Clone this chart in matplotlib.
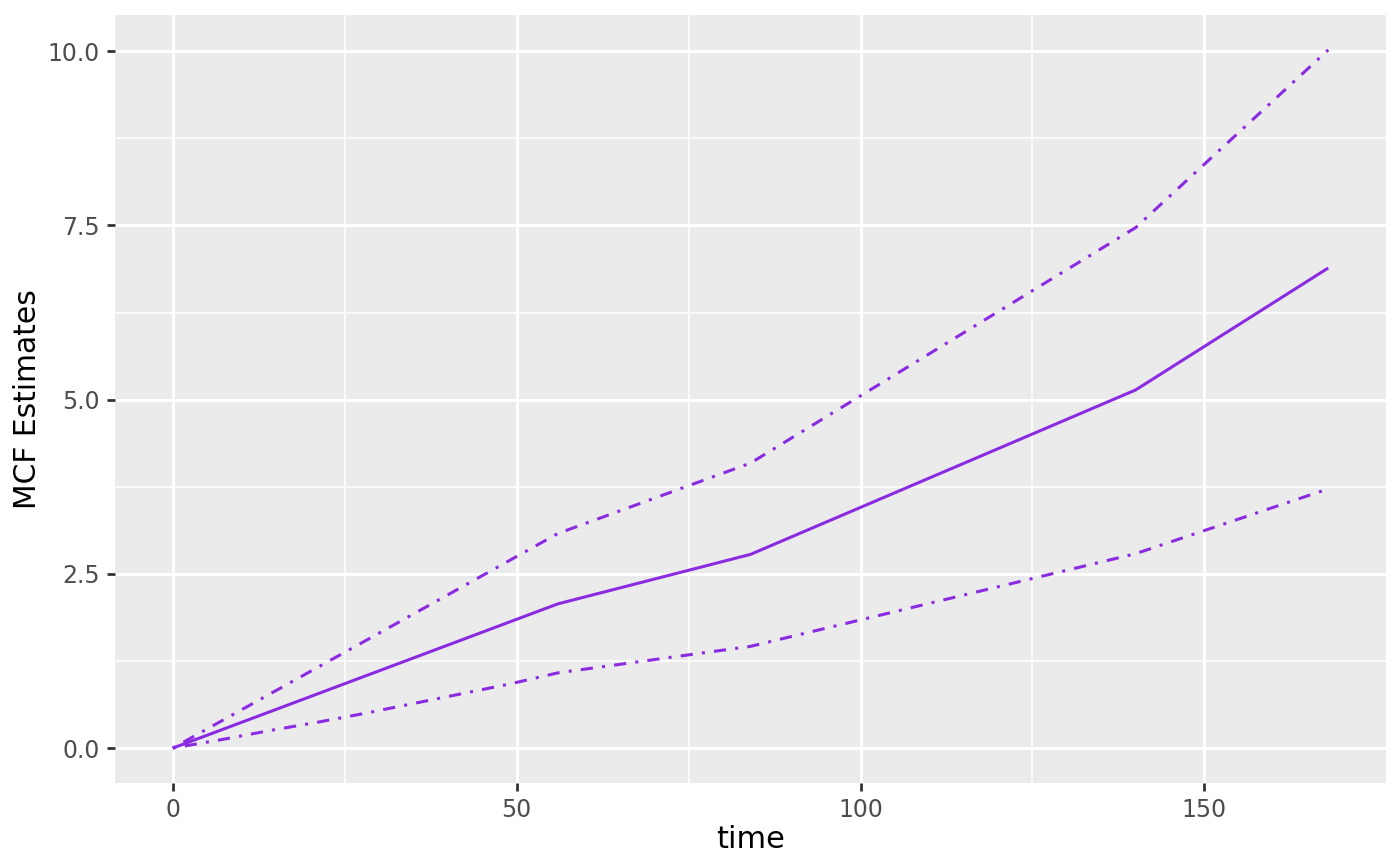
import matplotlib
matplotlib.use("Agg")
import matplotlib.pyplot as plt
from matplotlib.ticker import FixedLocator

# Data
time_mcf = [0, 56, 84, 140, 168]
mcf = [0.0, 2.07, 2.78, 5.14, 6.89]

time_upper = [0, 56, 84, 140, 168]
upper = [0.0, 3.08, 4.09, 7.47, 10.02]

time_lower = [0, 7, 14, 21, 28, 35, 42, 49, 56, 84, 140, 168]
lower = [0.0, 0.12, 0.25, 0.37, 0.50, 0.64, 0.78, 0.92, 1.08, 1.46, 2.79, 3.72]

x_major = [0, 50, 100, 150]
x_minor = [25, 75, 125]
y_major = [0.0, 2.5, 5.0, 7.5, 10.0]
y_minor = [1.25, 3.75, 6.25, 8.75]
y_labels = ["0.0", "2.5", "5.0", "7.5", "10.0"]

color = "#8A2BE2"

fig = plt.figure(figsize=(7, 4.33), dpi=200)
ax = fig.add_axes([115 / 1400, 1 - 783 / 866, (1386 - 115) / 1400, (783 - 15) / 866])
ax.set_facecolor("#EBEBEB")
for s in ax.spines.values():
    s.set_visible(False)

ax.xaxis.set_major_locator(FixedLocator(x_major))
ax.xaxis.set_minor_locator(FixedLocator(x_minor))
ax.yaxis.set_major_locator(FixedLocator(y_major))
ax.yaxis.set_minor_locator(FixedLocator(y_minor))
ax.set_yticklabels(y_labels)
ax.grid(which="major", color="white", linewidth=1.1)
ax.grid(which="minor", color="white", linewidth=0.55)
ax.set_axisbelow(True)
ax.tick_params(which="major", length=3, width=1.0, color="#333333",
               labelcolor="#4D4D4D", labelsize=8.5, pad=2.5)
ax.tick_params(which="minor", length=0)

dd = (0, (1, 3, 4, 3))
ax.plot(time_upper, upper, color=color, linewidth=1.1, linestyle=dd,
        dash_capstyle="butt")
ax.plot(time_lower, lower, color=color, linewidth=1.1, linestyle=dd,
        dash_capstyle="butt")
ax.plot(time_mcf, mcf, color=color, linewidth=1.1, solid_capstyle="butt")

xmin, xmax = 0, 168
ymin, ymax = 0, 10.02
ax.set_xlim(xmin - 0.05 * (xmax - xmin), xmax + 0.05 * (xmax - xmin))
ax.set_ylim(ymin - 0.05 * (ymax - ymin), ymax + 0.05 * (ymax - ymin))

ax.set_xlabel("time", fontsize=11, color="black", labelpad=1)
ax.set_ylabel("MCF Estimates", fontsize=10.7, color="black", labelpad=2)

fig.savefig("out.png", dpi=200)
